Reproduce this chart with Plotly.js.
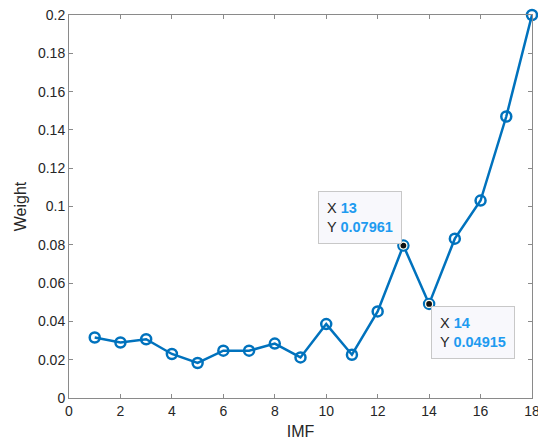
<!DOCTYPE html>
<html>
<head>
<meta charset="utf-8">
<script src="https://cdn.plot.ly/plotly-3.0.1.min.js"></script>
<style>html,body{margin:0;padding:0;background:#fff;}#chart{width:538px;height:446px;}</style>
</head>
<body>
<div id="chart"></div>
<script>
var imf = [1,2,3,4,5,6,7,8,9,10,11,12,13,14,15,16,17,18];
var weight = [0.0316,0.0290,0.0307,0.0230,0.0183,0.0247,0.0247,0.0284,0.0212,0.0386,0.0226,0.0452,0.07961,0.04915,0.0832,0.1031,0.1470,0.2000];
var tipIdx = [12, 13];
var tipLabels = ['13', '14'];
var tipValues = ['0.07961', '0.04915'];

var blue = '#0072BD';
var font = 'Liberation Sans, Arial, sans-serif';

var traces = [{
  x: imf, y: weight, type: 'scatter', mode: 'lines+markers',
  line: {color: blue, width: 2.5},
  marker: {symbol: 'circle-open', size: 10, color: blue, line: {width: 2.5, color: blue}},
  cliponaxis: false, hoverinfo: 'skip'
}, {
  x: tipIdx.map(function(i){return imf[i];}),
  y: tipIdx.map(function(i){return weight[i];}),
  type: 'scatter', mode: 'markers',
  marker: {symbol: 'circle', size: 7, color: '#111111', line: {width: 1.2, color: '#fffff0'}},
  cliponaxis: false, hoverinfo: 'skip'
}];

function tipText(k){
  return '<span style="color:#262626">X </span><b style="color:#1e9bf0">' + tipLabels[k] + '</b><br>' +
         '<span style="color:#262626">Y </span><b style="color:#1e9bf0">' + tipValues[k] + '</b>';
}

var annotations = [{
  x: imf[tipIdx[0]], y: weight[tipIdx[0]], xref: 'x', yref: 'y',
  text: tipText(0), showarrow: false, align: 'left',
  xanchor: 'right', yanchor: 'bottom', xshift: -1, yshift: 2,
  bgcolor: '#f8f8fc', bordercolor: '#c8c8c8', borderwidth: 1, borderpad: 8,
  font: {family: font, size: 14.5, color: '#262626'}
}, {
  x: imf[tipIdx[1]], y: weight[tipIdx[1]], xref: 'x', yref: 'y',
  text: tipText(1), showarrow: false, align: 'left',
  xanchor: 'left', yanchor: 'top', xshift: 2, yshift: -2,
  bgcolor: '#f8f8fc', bordercolor: '#c8c8c8', borderwidth: 1, borderpad: 8,
  font: {family: font, size: 14.5, color: '#262626'}
}];

var axisCommon = {
  showgrid: false, zeroline: false, showline: true, linecolor: '#8a8a8a', linewidth: 1,
  mirror: 'ticks', ticks: 'inside', ticklen: 4, tickcolor: '#8a8a8a', tickwidth: 1,
  ticklabeloverflow: 'allow',
  tickfont: {family: font, size: 14, color: '#262626'}
};

var layout = {
  width: 538, height: 446,
  margin: {l: 69, r: 6, t: 15, b: 48},
  paper_bgcolor: '#ffffff', plot_bgcolor: '#ffffff',
  showlegend: false,
  font: {family: font, size: 14, color: '#262626'},
  xaxis: Object.assign({}, axisCommon, {
    range: [0, 18], dtick: 2, tick0: 0,
    title: {text: 'IMF', font: {family: font, size: 16, color: '#262626'}, standoff: 8}
  }),
  yaxis: Object.assign({}, axisCommon, {
    range: [0, 0.2], dtick: 0.02, tick0: 0,
    title: {text: 'Weight', font: {family: font, size: 16, color: '#262626'}, standoff: 7}
  }),
  annotations: annotations
};

Plotly.newPlot('chart', traces, layout, {staticPlot: true, displayModeBar: false});
</script>
</body>
</html>
